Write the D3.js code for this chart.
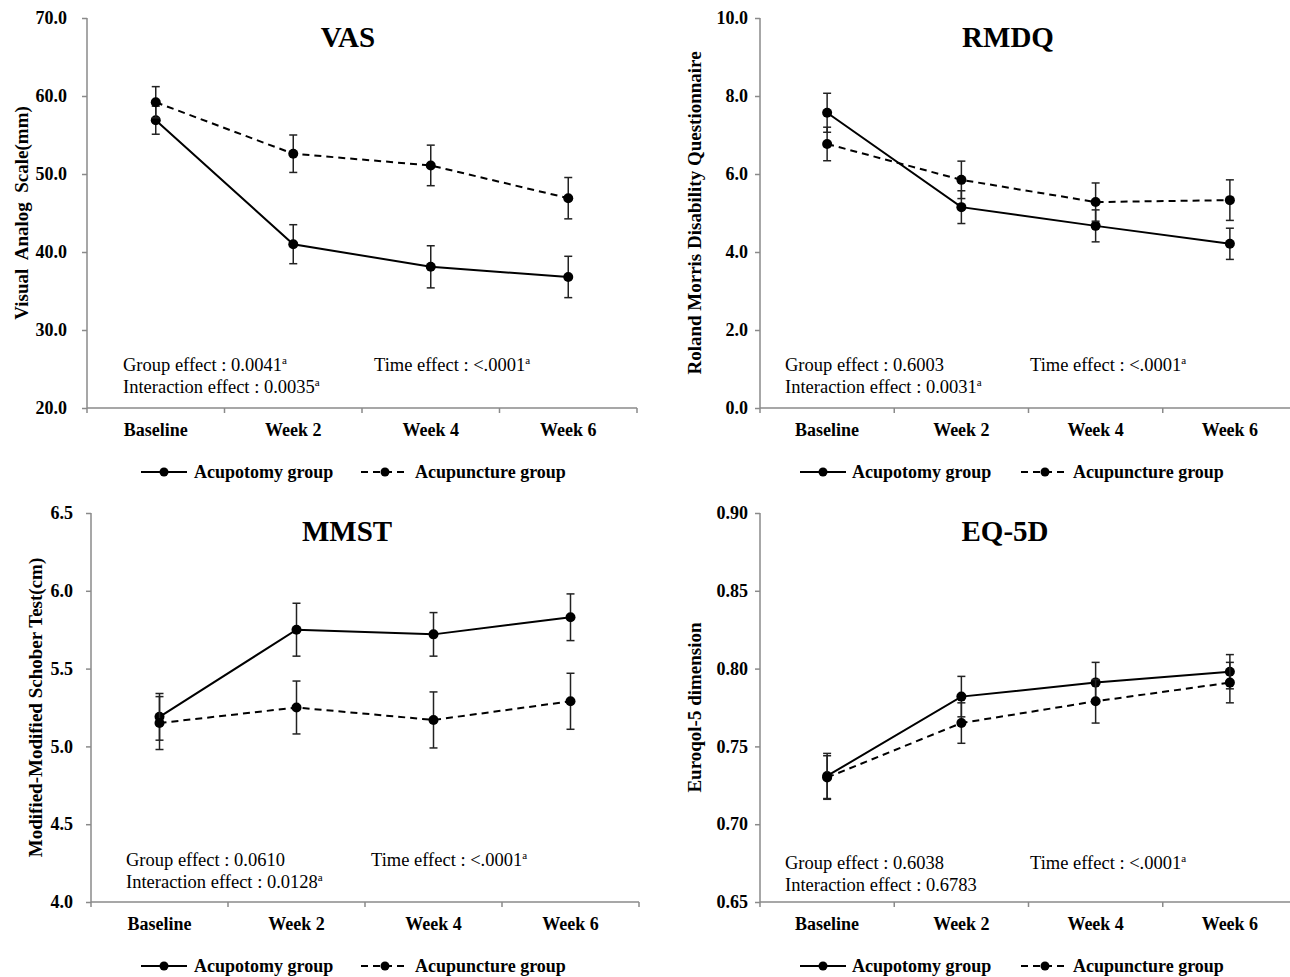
<!DOCTYPE html>
<html>
<head>
<meta charset="utf-8">
<script src="https://cdn.jsdelivr.net/npm/d3@7"></script>
<style>
  body { margin: 0; background: #fff; }
  text { font-family: "Liberation Serif", "Times New Roman", serif; }
</style>
</head>
<body>
<svg id="chart" width="1290" height="977"></svg>
<script>
const categories = ["Baseline", "Week 2", "Week 4", "Week 6"];
const seriesNames = ["Acupotomy group", "Acupuncture group"];

// VAS
const vasAcupotomy = [56.9, 41.0, 38.1, 36.8];
const vasAcupotomyErr = [1.8, 2.5, 2.7, 2.65];
const vasAcupuncture = [59.2, 52.6, 51.1, 46.9];
const vasAcupunctureErr = [2.0, 2.4, 2.6, 2.65];
const vasTicks = [20, 30, 40, 50, 60, 70];

// RMDQ
const rmdqAcupotomy = [7.57, 5.15, 4.67, 4.21];
const rmdqAcupotomyErr = [0.5, 0.42, 0.41, 0.4];
const rmdqAcupuncture = [6.77, 5.85, 5.28, 5.33];
const rmdqAcupunctureErr = [0.43, 0.48, 0.49, 0.52];
const rmdqTicks = [0, 2, 4, 6, 8, 10];

// MMST
const mmstAcupotomy = [5.19, 5.75, 5.72, 5.83];
const mmstAcupotomyErr = [0.15, 0.17, 0.14, 0.15];
const mmstAcupuncture = [5.15, 5.25, 5.17, 5.29];
const mmstAcupunctureErr = [0.17, 0.17, 0.18, 0.18];
const mmstTicks = [4.0, 4.5, 5.0, 5.5, 6.0, 6.5];

// EQ-5D
const eqAcupotomy = [0.731, 0.782, 0.791, 0.798];
const eqAcupotomyErr = [0.0145, 0.013, 0.013, 0.011];
const eqAcupuncture = [0.730, 0.765, 0.779, 0.791];
const eqAcupunctureErr = [0.014, 0.013, 0.014, 0.013];
const eqTicks = [0.65, 0.70, 0.75, 0.80, 0.85, 0.90];

const panels = [
  {
    title: "VAS", ylabel: "Visual  Analog  Scale(mm)", fmt: ".1f",
    ticks: vasTicks, a: vasAcupotomy, aErr: vasAcupotomyErr, b: vasAcupuncture, bErr: vasAcupunctureErr,
    left: 87, right: 637, top: 18, bottom: 408, labelGap: 20,
    titleX: 348, titleY: 47, ylabelX: 21,
    notes: [["Group effect : 0.0041", true, 123, 371], ["Time effect : <.0001", true, 374, 371], ["Interaction effect : 0.0035", true, 123, 393]],
    legendY: 472, legendX: [141, 194, 361, 415]
  },
  {
    title: "RMDQ", ylabel: "Roland Morris Disability Questionnaire", fmt: ".1f",
    ticks: rmdqTicks, a: rmdqAcupotomy, aErr: rmdqAcupotomyErr, b: rmdqAcupuncture, bErr: rmdqAcupunctureErr,
    left: 760, right: 1297, top: 18, bottom: 408, labelGap: 12,
    titleX: 1008, titleY: 47, ylabelX: 694,
    notes: [["Group effect : 0.6003", false, 785, 371], ["Time effect : <.0001", true, 1030, 371], ["Interaction effect : 0.0031", true, 785, 393]],
    legendY: 472, legendX: [800, 852, 1021, 1073]
  },
  {
    title: "MMST", ylabel: "Modified-Modified Schober Test(cm)", fmt: ".1f",
    ticks: mmstTicks, a: mmstAcupotomy, aErr: mmstAcupotomyErr, b: mmstAcupuncture, bErr: mmstAcupunctureErr,
    left: 91, right: 639, top: 513, bottom: 902, labelGap: 18,
    titleX: 347, titleY: 541, ylabelX: 35,
    notes: [["Group effect : 0.0610", false, 126, 866], ["Time effect : <.0001", true, 371, 866], ["Interaction effect : 0.0128", true, 126, 888]],
    legendY: 966, legendX: [141, 194, 361, 415]
  },
  {
    title: "EQ-5D", ylabel: "Euroqol-5 dimension", fmt: ".2f",
    ticks: eqTicks, a: eqAcupotomy, aErr: eqAcupotomyErr, b: eqAcupuncture, bErr: eqAcupunctureErr,
    left: 760, right: 1297, top: 513, bottom: 902, labelGap: 12,
    titleX: 1005, titleY: 541, ylabelX: 694,
    notes: [["Group effect : 0.6038", false, 785, 869], ["Time effect : <.0001", true, 1030, 869], ["Interaction effect : 0.6783", false, 785, 891]],
    legendY: 966, legendX: [800, 852, 1021, 1073]
  }
];

const svg = d3.select("#chart");
svg.append("rect").attr("width", 1290).attr("height", 977).attr("fill", "#fff");

const axisColor = "#8a8a8a";
const dashPattern = "7,5";

function drawPanel(p) {
  const g = svg.append("g");
  const x = d3.scaleBand().domain(categories).range([p.left, p.right]);
  const y = d3.scaleLinear().domain(d3.extent(p.ticks)).range([p.bottom, p.top]);
  const cx = d => x(d) + x.bandwidth() / 2;

  // y axis
  const yAxis = g.append("g")
    .attr("transform", `translate(${p.left},0)`)
    .call(d3.axisLeft(y).tickValues(p.ticks).tickFormat(d3.format(p.fmt)).tickSize(5).tickPadding(p.labelGap - 5));
  yAxis.select(".domain").attr("stroke", axisColor).attr("stroke-width", 1.5).attr("d", `M0,${p.top}V${p.bottom}`);
  yAxis.selectAll(".tick line").attr("stroke", axisColor).attr("stroke-width", 1.5);
  yAxis.selectAll(".tick text")
    .attr("fill", "#000").style("font-size", "18px").style("font-weight", "bold")
    .style("font-family", '"Liberation Serif", "Times New Roman", serif');

  // x axis with ticks at band edges
  const edges = categories.map(c => x(c)).concat([x(categories[categories.length - 1]) + x.bandwidth()]);
  g.append("line").attr("x1", p.left).attr("x2", p.right).attr("y1", p.bottom).attr("y2", p.bottom)
    .attr("stroke", axisColor).attr("stroke-width", 1.5);
  g.selectAll(".xedge").data(edges).join("line")
    .attr("x1", d => d).attr("x2", d => d).attr("y1", p.bottom).attr("y2", p.bottom + 5)
    .attr("stroke", axisColor).attr("stroke-width", 1.5);
  g.selectAll(".xlab").data(categories).join("text")
    .attr("x", cx).attr("y", p.bottom + 28)
    .attr("text-anchor", "middle").style("font-size", "18px").style("font-weight", "bold")
    .text(d => d);

  // title
  g.append("text").attr("x", p.titleX).attr("y", p.titleY).attr("text-anchor", "middle")
    .style("font-size", "29px").style("font-weight", "bold").text(p.title);

  // y label
  g.append("text")
    .attr("transform", `translate(${p.ylabelX},${(p.top + p.bottom) / 2}) rotate(-90)`)
    .attr("text-anchor", "middle").attr("dy", "0.35em")
    .style("font-size", "19px").style("font-weight", "bold").style("white-space", "pre")
    .text(p.ylabel);

  // notes
  p.notes.forEach(([txt, sup, nx, ny]) => {
    const t = g.append("text").attr("x", nx).attr("y", ny).style("font-size", "18.5px").style("white-space", "pre").text(txt);
    if (sup) t.append("tspan").attr("dy", -7).style("font-size", "11px").text("a");
  });

  const series = [
    { vals: p.a, errs: p.aErr, dash: null },
    { vals: p.b, errs: p.bErr, dash: dashPattern }
  ];
  const line = d3.line().x(d => cx(d.cat)).y(d => y(d.v));

  series.forEach(s => {
    const pts = categories.map((c, i) => ({ cat: c, v: s.vals[i], e: s.errs[i] }));
    g.append("path").datum(pts).attr("d", line)
      .attr("fill", "none").attr("stroke", "#000").attr("stroke-width", 2)
      .attr("stroke-dasharray", s.dash);
    const eb = g.append("g").attr("stroke", "#222").attr("stroke-width", 1.5);
    eb.selectAll(".v").data(pts).join("line")
      .attr("x1", d => cx(d.cat)).attr("x2", d => cx(d.cat))
      .attr("y1", d => y(d.v - d.e)).attr("y2", d => y(d.v + d.e));
    eb.selectAll(".t").data(pts).join("line")
      .attr("x1", d => cx(d.cat) - 4).attr("x2", d => cx(d.cat) + 4)
      .attr("y1", d => y(d.v + d.e)).attr("y2", d => y(d.v + d.e));
    eb.selectAll(".b").data(pts).join("line")
      .attr("x1", d => cx(d.cat) - 4).attr("x2", d => cx(d.cat) + 4)
      .attr("y1", d => y(d.v - d.e)).attr("y2", d => y(d.v - d.e));
    g.append("g").selectAll("circle").data(pts).join("circle")
      .attr("cx", d => cx(d.cat)).attr("cy", d => y(d.v)).attr("r", 5).attr("fill", "#000");
  });

  // legend
  const [l1, t1, l2, t2] = p.legendX;
  const ly = p.legendY;
  const lg = g.append("g");
  lg.append("line").attr("x1", l1).attr("x2", l1 + 46).attr("y1", ly).attr("y2", ly)
    .attr("stroke", "#000").attr("stroke-width", 2);
  lg.append("circle").attr("cx", l1 + 23).attr("cy", ly).attr("r", 4.5).attr("fill", "#000");
  lg.append("text").attr("x", t1).attr("y", ly + 6).style("font-size", "18px").style("font-weight", "bold").text(seriesNames[0]);
  lg.append("line").attr("x1", l2).attr("x2", l2 + 46).attr("y1", ly).attr("y2", ly)
    .attr("stroke", "#000").attr("stroke-width", 2).attr("stroke-dasharray", dashPattern);
  lg.append("circle").attr("cx", l2 + 24).attr("cy", ly).attr("r", 4.5).attr("fill", "#000");
  lg.append("text").attr("x", t2).attr("y", ly + 6).style("font-size", "18px").style("font-weight", "bold").text(seriesNames[1]);
}

panels.forEach(drawPanel);
</script>
</body>
</html>
